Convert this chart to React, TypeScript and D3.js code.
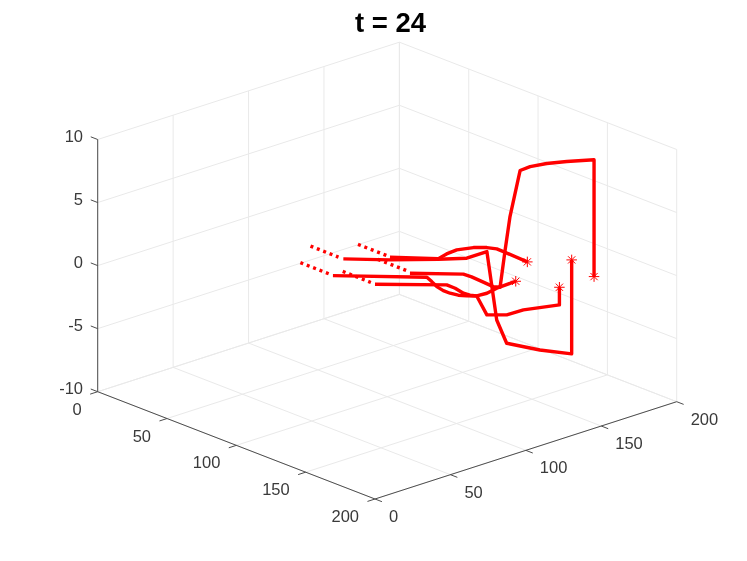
import * as d3 from "d3";
import React from "react";

const width = 747;
const height = 561;

// axis ticks
const xTicks = [0, 50, 100, 150, 200];
const yTicks = [0, 50, 100, 150, 200];
const zTicks = [-10, -5, 0, 5, 10];

// dotted lead-in of each track, [x, y, z]
const tailA = [[63.8, 113.9, 0], [84.3, 113.9, 0]];
const tailB = [[86.2, 83.2, 0], [106.7, 83, 0]];
const tailC = [[63.5, 76, 0], [84, 75.9, 0]];
const tailD = [[49.9, 95.2, 0], [70.4, 94.9, 0]];
const tailE = [[85.5, 107.1, 0], [107.4, 107, 0]];

// solid part of each track, last point carries the star
const trackA = [
  [87.3, 113.5, 0], [104.6, 129.7, 0], [110.2, 130, 0.6], [117.1, 130.4, 1.2],
  [122.8, 136.2, 1.4], [128.5, 139.9, 1.5], [130.5, 144.6, 1.3], [131.6, 148, 1],
  [137.1, 158.8, 0],
];
const trackB = [
  [109.8, 82.9, 0], [134, 108.2, 0], [140.2, 108.1, 0], [148, 106.4, 0],
  [152.2, 106.9, 0], [155.1, 108.7, 0], [155.7, 114.9, 0], [153.8, 123.2, 0],
  [153, 136.5, 0],
];
const trackC = [
  [87.3, 75.7, 0], [119.7, 108.2, 0], [125.8, 105.8, 0], [132.5, 103, 0],
  [138.7, 101.6, 0], [143.6, 101.6, 0], [148.3, 102.7, 0], [151.8, 105.1, 0],
  [155.1, 108.7, 0], [158.5, 112.3, -1.5], [165, 119.5, -1.5], [165.4, 130.2, -1.5],
  [173.4, 146.7, -1.4], [173.4, 146.7, 0],
];
const trackD = [
  [73.7, 95.1, 0], [90, 111, 0], [105.2, 129.2, 0], [113.5, 140.3, 0],
  [128.7, 139.7, 1.2], [128.4, 146.5, -4.5], [129.7, 151.9, -6.5], [141, 163.5, -7],
  [149.6, 176.7, -7.45], [149.6, 176.7, 0],
];
const trackE = [
  [110.1, 105.8, 0], [128.6, 124.2, 0], [134.1, 124.6, 0], [140.6, 124.2, 0],
  [151, 123.4, 0], [153.9, 125.3, 0], [149.7, 132.5, 2.5], [149.4, 136, 5],
  [149.9, 140.4, 7.5], [150.8, 141.4, 8.5], [153.9, 145.2, 8.8], [158.8, 151.7, 9],
  [165.9, 158.5, 9.2], [173.9, 169.2, 9.26], [173.9, 169.2, 0],
];

const tails = [tailA, tailB, tailC, tailD, tailE];
const tracks = [trackA, trackB, trackC, trackD, trackE];

// orthographic view: each data axis adds its own screen offset
const xToPx = d3.scaleLinear().domain([0, 200]).range([0, 277.3]);
const xToPy = d3.scaleLinear().domain([0, 200]).range([0, 107.3]);
const yToPx = d3.scaleLinear().domain([0, 200]).range([0, 301.7]);
const yToPy = d3.scaleLinear().domain([0, 200]).range([0, -97.3]);
const zToPy = d3.scaleLinear().domain([-10, 10]).range([391.7, 139.5]);
const originX = 97.7;

const px = (x: number, y: number) => originX + xToPx(x) + yToPx(y);
const py = (x: number, y: number, z: number) => zToPy(z) + xToPy(x) + yToPy(y);

const line3d = d3
  .line<number[]>()
  .x((d) => px(d[0], d[1]))
  .y((d) => py(d[0], d[1], d[2]));

// matlab's * marker is a plus and a cross on top of each other
const starPlus = d3.symbol().type(d3.symbolPlus).size(38)();
const starTimes = d3.symbol().type(d3.symbolTimes).size(36)();

const gridColor = "#e9e9e9";
const axisColor = "#4d4d4d";
const textColor = "#3a3a3a";
const font = "'Liberation Sans', Arial, sans-serif";

function Seg({ a, color }: { a: number[][]; color: string }) {
  return <path d={line3d(a) as string} fill="none" stroke={color} strokeWidth={1} />;
}

export default function App() {
  return (
    <svg
      width={width}
      height={height}
      style={{ position: "absolute", left: 0, top: 0, background: "#fff", filter: "blur(0.4px)" }}
    >
      {/* back walls and floor */}
      <g>
        {zTicks.map((z) => (
          <Seg key={"w" + z} a={[[0, 0, z], [0, 200, z], [200, 200, z]]} color={gridColor} />
        ))}
        {yTicks.map((y) => (
          <Seg key={"yw" + y} a={[[200, y, -10], [0, y, -10], [0, y, 10]]} color={gridColor} />
        ))}
        {xTicks.map((x) => (
          <Seg key={"xw" + x} a={[[x, 0, -10], [x, 200, -10], [x, 200, 10]]} color={gridColor} />
        ))}
      </g>

      {/* axes */}
      <g>
        <Seg a={[[0, 0, -10], [200, 0, -10], [200, 200, -10]]} color={axisColor} />
        <Seg a={[[0, 0, -10], [0, 0, 10]]} color={axisColor} />
        {xTicks.map((x) => (
          <Seg key={x} a={[[x, 0, -10], [x, -5, -10]]} color={axisColor} />
        ))}
        {yTicks.map((y) => (
          <Seg key={y} a={[[200, y, -10], [205, y, -10]]} color={axisColor} />
        ))}
        {zTicks.map((z) => (
          <Seg key={z} a={[[0, 0, z], [-5, 0, z]]} color={axisColor} />
        ))}
      </g>

      {/* tick labels */}
      <g fontFamily={font} fontSize={16.5} fill={textColor}>
        {xTicks.map((x) => (
          <text key={x} x={px(x, 0) - 16} y={py(x, 0, -10) + 23} textAnchor="end">
            {x}
          </text>
        ))}
        {yTicks.map((y) => (
          <text key={y} x={px(200, y) + 14} y={py(200, y, -10) + 23} textAnchor="start">
            {y}
          </text>
        ))}
        {zTicks.map((z) => (
          <text key={z} x={83} y={zToPy(z) + 2.5} textAnchor="end">
            {z}
          </text>
        ))}
      </g>

      {/* tracks */}
      <g fill="none" stroke="#ff0000">
        {tails.map((t, i) => (
          <path key={i} d={line3d(t) as string} strokeWidth={3.4} strokeDasharray="3 3.85" />
        ))}
        {tracks.map((t, i) => (
          <path key={i} d={line3d(t) as string} strokeWidth={3.4} strokeLinejoin="round" />
        ))}
        {tracks.map((t, i) => {
          const end = t[t.length - 1];
          const at = `translate(${px(end[0], end[1])},${py(end[0], end[1], end[2])})`;
          return (
            <g key={i} transform={at} strokeWidth={1}>
              <path d={starPlus as string} />
              <path d={starTimes as string} />
            </g>
          );
        })}
      </g>

      <text
        x={390.5}
        y={32.3}
        textAnchor="middle"
        fontFamily={font}
        fontWeight="bold"
        fontSize={27.5}
        fill="#000"
      >
        t = 24
      </text>
    </svg>
  );
}
